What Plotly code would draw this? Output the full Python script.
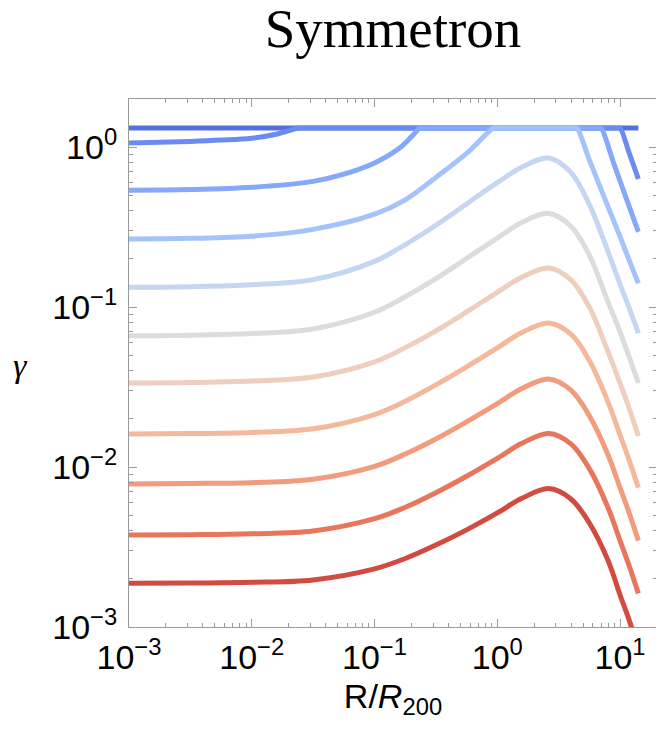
"""
symmetron_plot.py

Redraws the 'Symmetron' panel: gamma against R/R200 on log-log axes,
one line per model, coloured from blue (top) to red (bottom).
Lines are capped at the top value, so the upper ones merge into a flat line.
"""

import plotly.graph_objects as go

# Shared radius grid (R/R200) for the curves that never reach the cap
R_GRID = [0.001, 0.00316, 0.01, 0.0316, 0.1, 0.178, 0.316, 0.562, 1.0,
          1.585, 2.63, 3.98, 5.62, 7.94, 10.0, 11.9, 14.1]

GAMMA_1 = [1.875e-3, 1.884e-3, 1.901e-3, 1.968e-3, 2.307e-3, 2.679e-3, 3.251e-3,
           4.046e-3, 5.164e-3, 6.368e-3, 7.328e-3, 6.310e-3, 4.467e-3, 2.630e-3,
           1.585e-3, 1.096e-3, 7.24e-4]
GAMMA_2 = [3.758e-3, 3.776e-3, 3.828e-3, 3.981e-3, 4.754e-3, 5.598e-3, 6.902e-3,
           8.750e-3, 1.132e-2, 1.406e-2, 1.622e-2, 1.396e-2, 9.772e-3, 5.623e-3,
           3.467e-3, 2.399e-3, 1.622e-3]
GAMMA_3 = [7.834e-3, 7.889e-3, 7.980e-3, 8.375e-3, 1.009e-2, 1.205e-2, 1.496e-2,
           1.914e-2, 2.489e-2, 3.090e-2, 3.548e-2, 3.020e-2, 2.089e-2, 1.202e-2,
           7.413e-3, 5.129e-3, 3.467e-3]
GAMMA_4 = [1.607e-2, 1.618e-2, 1.644e-2, 1.734e-2, 2.128e-2, 2.576e-2, 3.258e-2,
           4.227e-2, 5.559e-2, 6.918e-2, 7.943e-2, 6.761e-2, 4.624e-2, 2.570e-2,
           1.585e-2, 1.096e-2, 7.413e-3]
GAMMA_5 = [3.350e-2, 3.373e-2, 3.443e-2, 3.648e-2, 4.539e-2, 5.572e-2, 7.096e-2,
           9.311e-2, 0.1236, 0.1535, 0.1754, 0.1476, 9.977e-2, 5.297e-2,
           3.342e-2, 2.312e-2, 1.563e-2]
GAMMA_6 = [6.607e-2, 6.668e-2, 6.823e-2, 7.295e-2, 9.268e-2, 0.1159, 0.1503,
           0.2009, 0.2698, 0.3373, 0.3846, 0.3199, 0.2113, 0.1084,
           6.998e-2, 4.842e-2, 3.350e-2]
GAMMA_7 = [0.1327, 0.1340, 0.1377, 0.1483, 0.1928, 0.2455, 0.3243,
           0.4406, 0.5984, 0.7482, 0.8531, 0.6934, 0.4375, 0.2244,
           0.1384, 9.795e-2, 6.855e-2]

# Curves that touch the cap have their own radius points
R_8 = [0.001, 0.00316, 0.01, 0.0316, 0.1, 0.178, 0.316, 0.562, 0.933, 0.977,
       4.27, 4.44, 5.62, 7.94, 10.0, 11.9, 14.1]
GAMMA_8 = [0.2661, 0.2685, 0.2767, 0.3055, 0.3802, 0.4677, 0.6457, 0.9120, 1.315, 1.315,
           1.315, 1.315, 0.8318, 0.4266, 0.2754, 0.1950, 0.1406]

R_9 = [0.001, 0.00316, 0.01, 0.0316, 0.0562, 0.1, 0.158, 0.200, 0.234, 0.245,
       6.76, 7.00, 8.91, 11.2, 14.1]
GAMMA_9 = [0.5370, 0.5420, 0.5598, 0.6095, 0.6761, 0.7943, 0.9772, 1.161, 1.315, 1.315,
           1.315, 1.315, 0.7852, 0.4808, 0.2951]

R_10 = [0.001, 0.00316, 0.00562, 0.01, 0.0158, 0.0240, 0.0251, 9.66, 10.0, 11.9, 14.1]
GAMMA_10 = [1.059, 1.084, 1.104, 1.135, 1.202, 1.315, 1.315, 1.315, 1.315, 0.912, 0.631]

R_11 = [0.001, 14.1]
GAMMA_11 = [1.315, 1.315]

# Drawn first to last: blue lines underneath, red on top
CURVES = [
    (R_11, GAMMA_11, '#5470de'),
    (R_10, GAMMA_10, '#6a8bef'),
    (R_9, GAMMA_9, '#86a8fa'),
    (R_8, GAMMA_8, '#a5c3fb'),
    (R_GRID, GAMMA_7, '#c5d6f2'),
    (R_GRID, GAMMA_6, '#dcdcdc'),
    (R_GRID, GAMMA_5, '#efcebd'),
    (R_GRID, GAMMA_4, '#f6b89c'),
    (R_GRID, GAMMA_3, '#f29c7d'),
    (R_GRID, GAMMA_2, '#e7765d'),
    (R_GRID, GAMMA_1, '#d24b40'),
]

X_TICKS = [1e-3, 1e-2, 1e-1, 1, 10]
X_LABELS = ['10<sup>−3</sup>', '10<sup>−2</sup>', '10<sup>−1</sup>',
            '10<sup>0</sup>', '10<sup>1</sup>']
Y_TICKS = [1e-3, 1e-2, 1e-1, 1]
Y_LABELS = ['10<sup>−3</sup>', '10<sup>−2</sup>', '10<sup>−1</sup>', '10<sup>0</sup>']

SANS = 'Liberation Sans, Arial, sans-serif'
SERIF = 'Liberation Serif, Times New Roman, serif'
FRAME = '#9a9a9a'


def minor_ticks(first, last):
    """2..9 times each power of ten between the given exponents."""
    return [m * 10.0 ** e for e in range(first, last + 1) for m in range(2, 10)]


def axis_style(ticks, labels, minors):
    return dict(
        type='log',
        tickmode='array',
        tickvals=ticks,
        ticktext=labels,
        ticks='inside',
        ticklen=8,
        tickwidth=1,
        tickcolor=FRAME,
        minor=dict(tickmode='array', tickvals=minors, ticks='inside',
                   ticklen=4, tickwidth=1, tickcolor=FRAME, showgrid=False),
        showline=True,
        linecolor=FRAME,
        linewidth=1,
        mirror='ticks',
        showgrid=False,
        zeroline=False,
        automargin=False,
        tickfont=dict(family=SANS, size=34, color='black'),
    )


def build_figure():
    fig = go.Figure()
    for r, gamma, colour in CURVES:
        fig.add_trace(go.Scatter(
            x=r, y=gamma, mode='lines',
            line=dict(color=colour, width=5, shape='spline', smoothing=1.0),
            showlegend=False, hoverinfo='skip',
        ))

    xaxis = axis_style(X_TICKS, X_LABELS, minor_ticks(-3, 1))
    xaxis.update(range=[-3, 1.301], ticklabelstandoff=0,
                 title=dict(text='R/<i>R</i><sub>200</sub>',
                            font=dict(family=SANS, size=34, color='black'),
                            standoff=9))
    yaxis = axis_style(Y_TICKS, Y_LABELS, minor_ticks(-3, 0))
    yaxis.update(range=[-3, 0.3], ticklabelstandoff=4)

    # the page body keeps an 8px margin, so the figure is sized to fit inside it
    fig.update_layout(
        width=656, height=717,
        margin=dict(l=121, r=7, t=91, b=98),
        paper_bgcolor='white',
        plot_bgcolor='white',
        title=dict(text='Symmetron', x=0.5, xref='paper', xanchor='center',
                   y=0.999, yref='container', yanchor='top',
                   font=dict(family=SERIF, size=55, color='black')),
        xaxis=xaxis,
        yaxis=yaxis,
    )

    # y-axis label placed by hand, left of the tick labels
    fig.add_annotation(
        text='<i>γ</i>', xref='paper', yref='paper', x=-0.205, y=0.495,
        xanchor='center', yanchor='middle', showarrow=False,
        font=dict(family=SERIF, size=34, color='black'),
    )
    return fig


def main():
    fig = build_figure()
    fig.write_html('out.html')


if __name__ == '__main__':
    main()
